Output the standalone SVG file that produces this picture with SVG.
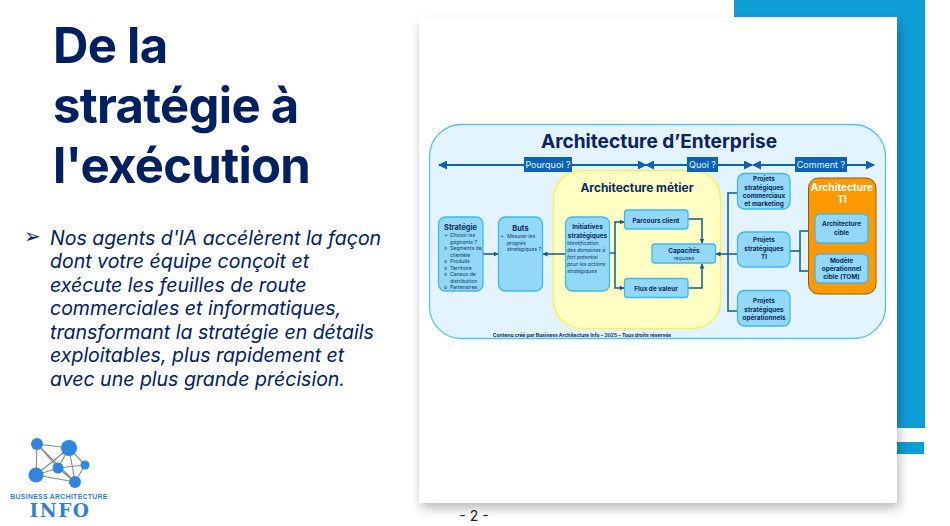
<svg xmlns="http://www.w3.org/2000/svg" width="950" height="526" viewBox="0 0 950 526">
<style>
text{font-family:Inter,"Liberation Sans",sans-serif}
.ti{font-size:49px;font-weight:700;fill:#002060;letter-spacing:-.7px}
.bd{font-size:19.500px;font-style:italic;fill:#002060}
.box{fill:#93d8f7;stroke:#3fb8ec;stroke-width:1.3}
.h{font-size:7.400px;font-weight:700;fill:#0b2a5c;text-anchor:middle}
.h2{font-size:6.400px;font-weight:700;fill:#0b2a5c;text-anchor:middle}
.s{font-size:5.100px;fill:#123a6b}
.si{font-size:5.100px;font-style:italic;fill:#123a6b}
.tag{fill:#0b63b5}
.tt{font-size:9px;fill:#e8f4ff;text-anchor:middle}
.ln{fill:none;stroke:#0f5a94;stroke-width:1.5}
.bar{fill:none;stroke:#0b63b5;stroke-width:1.8}
.lg{stroke:#8a8a8a;stroke-width:1.1}
.dot{fill:#2f86dc}
</style>
<defs>
<filter id="sh" x="-5%" y="-5%" width="110%" height="110%"><feGaussianBlur stdDeviation="6"/></filter>
<marker id="a" markerUnits="userSpaceOnUse" markerWidth="5" markerHeight="5" refX="4.500" refY="2.500" orient="auto-start-reverse"><path d="M0 0L5 2.500L0 5z" fill="#0f5a94"/></marker>
<marker id="b" markerUnits="userSpaceOnUse" markerWidth="9" markerHeight="9" refX="8" refY="4.500" orient="auto-start-reverse"><path d="M0 0L9 4.500L0 9z" fill="#0b63b5"/></marker>
</defs>
<rect width="950" height="526" fill="#fff"/>
<g id="frame">
<path d="M734 0H925V428H897V17H734z" fill="#0f9dd6"/>
<rect x="897" y="442" width="27" height="12" fill="#0f9dd6"/>
<rect x="421" y="24" width="478" height="484" fill="#000" opacity=".28" filter="url(#sh)"/>
<rect x="419" y="17" width="478" height="486" fill="#fff"/>
</g>
<g id="title">
<text class="ti" x="53" y="63">De la</text>
<text class="ti" x="53" y="123">stratégie à</text>
<text class="ti" x="53" y="183">l'exécution</text>
</g>
<g id="body">
<text x="24" y="243" font-size="20" fill="#002060" style="font-family:'DejaVu Sans',sans-serif">➢</text>
<text class="bd" x="50" y="245">Nos agents d'IA accélèrent la façon</text>
<text class="bd" x="50" y="268">dont votre équipe conçoit et</text>
<text class="bd" x="50" y="292">exécute les feuilles de route</text>
<text class="bd" x="50" y="315">commerciales et informatiques,</text>
<text class="bd" x="50" y="339">transformant la stratégie en détails</text>
<text class="bd" x="50" y="362">exploitables, plus rapidement et</text>
<text class="bd" x="50" y="386">avec une plus grande précision.</text>
</g>
<g id="logo">
<path class="lg" d="M37 444L69 448M37 444L36 475M37 444L58 468M37 444L75 482M69 448L36 475M69 448L58 468M69 448L85 465M69 448L75 482M36 475L58 468M36 475L75 482M58 468L85 465M58 468L75 482M85 465L75 482"/>
<circle class="dot" cx="37" cy="444" r="6"/><circle class="dot" cx="69" cy="448" r="8"/><circle class="dot" cx="36" cy="475" r="7.500"/><circle class="dot" cx="58" cy="468" r="5.500"/><circle class="dot" cx="85" cy="465" r="4.500"/><circle class="dot" cx="75" cy="482" r="6"/>
<text x="59" y="499" font-size="6.900" font-weight="700" fill="#2f7fd0" text-anchor="middle" style="font-family:'Liberation Sans',sans-serif;letter-spacing:.3px">BUSINESS ARCHITECTURE</text>
<text x="60" y="517" font-size="18.500" font-weight="700" fill="#2f7fd0" text-anchor="middle" style="font-family:'DejaVu Serif',serif;letter-spacing:1.500px">INFO</text>
</g>
<text id="page" x="474" y="521" font-size="14" fill="#222" text-anchor="middle">- 2 -</text>
<g id="container">
<rect x="429.500" y="124.500" width="456" height="214" rx="32" fill="#e3f4fe" stroke="#55c1ee" stroke-width="1.300"/>
<text x="659" y="148" font-size="19.100" font-weight="700" fill="#0b2265" text-anchor="middle">Architecture d’Enterprise</text>
</g>
<g id="architecture-metier">
<rect x="553.500" y="170.500" width="167" height="158" rx="28" fill="#ffffc4" stroke="#f7f25a" stroke-width="1.500"/>
<text x="637" y="192" font-size="11.900" font-weight="700" fill="#0b2a5c" text-anchor="middle">Architecture métier</text>
</g>
<g id="connectors">
<path class="bar" marker-start="url(#b)" marker-end="url(#b)" d="M439 165H646"/>
<path class="bar" marker-start="url(#b)" marker-end="url(#b)" d="M646 165H752"/>
<path class="bar" marker-start="url(#b)" marker-end="url(#b)" d="M753 165H874"/>
<path class="ln" marker-end="url(#a)" d="M483 254H498"/>
<path class="ln" marker-end="url(#a)" d="M565 254H543"/>
<path class="ln" marker-end="url(#a)" d="M609 253H615V222H624"/>
<path class="ln" marker-end="url(#a)" d="M615 253V288H624"/>
<path class="ln" marker-end="url(#a)" d="M688 219H702V243"/>
<path class="ln" marker-end="url(#a)" d="M688 288H702V264"/>
<path class="ln" marker-end="url(#a)" d="M737 254H716"/>
<path class="ln" d="M737 193H728V311H737"/>
<path class="ln" marker-end="url(#a)" d="M790 251H800V231H815"/>
<path class="ln" marker-end="url(#a)" d="M800 251V271H815"/>
</g>
<g id="tag-pourquoi"><rect class="tag" x="524" y="157" width="48" height="15"/><text class="tt" x="548" y="168">Pourquoi ?</text></g>
<g id="tag-quoi"><rect class="tag" x="687" y="157" width="31" height="15"/><text class="tt" x="702.500" y="168">Quoi ?</text></g>
<g id="tag-comment"><rect class="tag" x="795" y="157" width="52" height="15"/><text class="tt" x="821" y="168">Comment ?</text></g>
<g id="strategie">
<rect class="box" x="438.500" y="217" width="44.500" height="74" rx="7"/>
<text class="h" x="460.500" y="230">Stratégie</text>
<text class="si" x="450" y="237">Choisir les</text>
<text class="si" x="450" y="243.500">gagnants ?</text>
<text class="s" x="450" y="250">Segments de</text>
<text class="s" x="450" y="256.500">clientèle</text>
<text class="s" x="450" y="263">Produits</text>
<text class="s" x="450" y="269.500">Territoire</text>
<text class="s" x="450" y="276">Canaux de</text>
<text class="s" x="450" y="282.500">distribution</text>
<text class="s" x="450" y="289">Partenaires</text>
<text class="s" x="444" y="237" style="font-family:'DejaVu Sans',sans-serif">➢</text><text class="s" x="444" y="250">o</text><text class="s" x="444" y="263">o</text><text class="s" x="444" y="269.500">o</text><text class="s" x="444" y="276">o</text><text class="s" x="444" y="289">o</text>
</g>
<g id="buts">
<rect class="box" x="498.500" y="217" width="44" height="74" rx="7"/>
<text class="h" x="520.500" y="231">Buts</text>
<text class="s" x="500" y="238" style="font-family:'DejaVu Sans',sans-serif">➢</text>
<text class="si" x="507" y="238">Mesurer les</text>
<text class="si" x="507" y="244.500">progrès</text>
<text class="si" x="507" y="251">stratégiques ?</text>
</g>
<g id="initiatives">
<rect class="box" x="565.500" y="217" width="44" height="74" rx="7"/>
<text class="h2" x="587.500" y="229">Initiatives</text>
<text class="h2" x="587.500" y="238">stratégiques</text>
<text class="si" x="567" y="245">Identification</text>
<text class="si" x="567" y="252">des domaines à</text>
<text class="si" x="567" y="259">fort potentiel</text>
<text class="si" x="567" y="266">pour les actions</text>
<text class="si" x="567" y="273">stratégiques</text>
</g>
<g id="parcours-client"><rect class="box" x="624.500" y="210" width="63.500" height="19" rx="3"/><text class="h2" x="656" y="222.500">Parcours client</text></g>
<g id="flux-de-valeur"><rect class="box" x="624.500" y="278.500" width="63.500" height="19" rx="3"/><text class="h2" x="656" y="290.500">Flux de valeur</text></g>
<g id="capacites"><rect class="box" x="652" y="244" width="63.500" height="19" rx="3"/><text class="h2" x="684" y="252.500">Capacités</text><text class="s" x="684" y="260" text-anchor="middle">requises</text></g>
<g id="projets-commerciaux"><rect class="box" x="737.500" y="173.500" width="52.500" height="35.500" rx="7"/><text class="h2" x="764" y="181">Projets</text><text class="h2" x="764" y="189.500">stratégiques</text><text class="h2" x="764" y="197.500">commerciaux</text><text class="h2" x="764" y="206">et marketing</text></g>
<g id="projets-ti"><rect class="box" x="737.500" y="232" width="52.500" height="35" rx="7"/><text class="h2" x="764" y="242">Projets</text><text class="h2" x="764" y="250.500">stratégiques</text><text class="h2" x="764" y="258.500">TI</text></g>
<g id="projets-operationnels"><rect class="box" x="737.500" y="290.500" width="52.500" height="35.500" rx="7"/><text class="h2" x="764" y="303">Projets</text><text class="h2" x="764" y="311.500">stratégiques</text><text class="h2" x="764" y="319.500">opérationnels</text></g>
<g id="architecture-ti">
<rect x="808.500" y="178" width="67.500" height="116" rx="10" fill="#ff9900" stroke="#8a5a1a" stroke-width="1"/>
<text x="842" y="191" font-size="10.200" font-weight="700" fill="#fff" text-anchor="middle">Architecture</text>
<text x="842" y="203" font-size="10.200" font-weight="700" fill="#fff" text-anchor="middle">TI</text>
</g>
<g id="architecture-cible"><rect class="box" x="815" y="214" width="53" height="29" rx="5"/><text class="h2" x="841.500" y="226">Architecture</text><text class="h2" x="841.500" y="234.500">cible</text></g>
<g id="modele-operationnel"><rect class="box" x="815" y="254" width="53" height="29" rx="5"/><text class="h2" x="841.500" y="262.500">Modèle</text><text class="h2" x="841.500" y="271">opérationnel</text><text class="h2" x="841.500" y="279">cible (TOM)</text></g>
<text id="credit" x="582" y="337" font-size="4.950" font-weight="700" fill="#0b2a5c" text-anchor="middle">Contenu créé par Business Architecture Info – 2025 – Tous droits réservés</text>
</svg>
